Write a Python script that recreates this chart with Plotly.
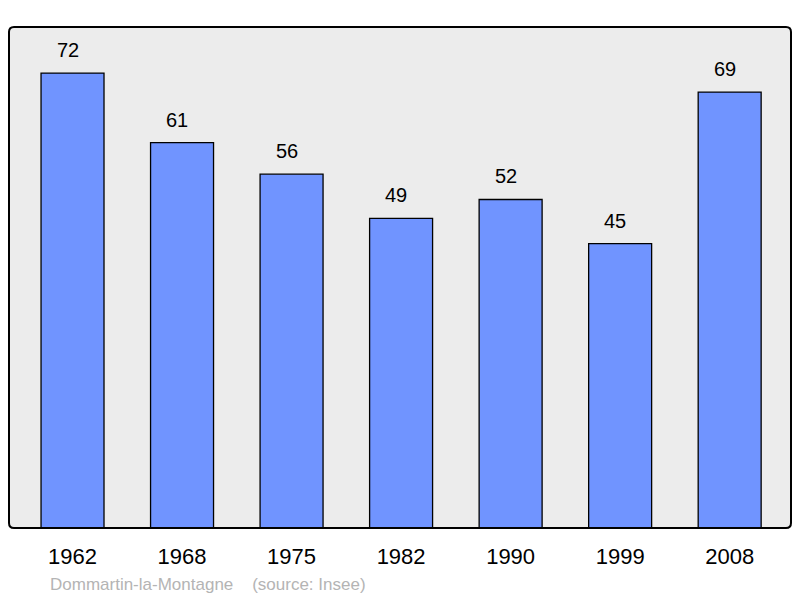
import plotly.graph_objects as go

years = ["1962", "1968", "1975", "1982", "1990", "1999", "2008"]
population = [72, 61, 56, 49, 52, 45, 69]
footer_text = "Dommartin-la-Montagne    (source: Insee)"

PW, PH = 782, 501  # plot area in pixels
rx, ry = 5 / PW, 5 / PH
border_path = (f"M {rx},0 L {1-rx},0 Q 1,0 1,{ry} L 1,{1-ry} Q 1,1 {1-rx},1 "
               f"L {rx},1 Q 0,1 0,{1-ry} L 0,{ry} Q 0,0 {rx},0 Z")

fig = go.Figure()
fig.add_trace(go.Bar(
    x=list(range(len(years))), y=population, width=0.575,
    marker=dict(color="#7094ff", line=dict(color="#000000", width=1.3)),
    hoverinfo="skip",
))

annotations = []
for i, v in enumerate(population):
    annotations.append(dict(x=i, y=v, xref="x", yref="y", text=str(v), showarrow=False,
                            yanchor="bottom", yshift=10, xshift=-5,
                            font=dict(family="Liberation Sans, Arial", size=20, color="#000")))
annotations.append(dict(x=(48 - 9) / PW, y=0, xref="paper", yref="paper", text=footer_text,
                        showarrow=False, xanchor="left", yanchor="middle", yshift=-56,
                        font=dict(family="Liberation Sans, Arial", size=17, color="#b4b4b4")))

fig.update_layout(
    width=800, height=598,
    margin=dict(l=9, r=9, t=27, b=70),
    paper_bgcolor="#ffffff", plot_bgcolor="rgba(0,0,0,0)",
    showlegend=False,
    annotations=annotations,
    bargap=0,
    xaxis=dict(range=[-0.58, 6.56], tickmode="array", tickvals=list(range(len(years))),
               ticktext=years, showgrid=False, zeroline=False, ticks="outside", ticklen=9,
               tickcolor="rgba(0,0,0,0)",
               tickfont=dict(family="Liberation Sans, Arial", size=22, color="#000")),
    yaxis=dict(range=[0, 79.3], showgrid=False, zeroline=False, showticklabels=False),
    shapes=[
        dict(type="path", xref="paper", yref="paper", path=border_path,
             fillcolor="#ececec", line=dict(width=0), layer="below"),
        dict(type="path", xref="paper", yref="paper", path=border_path,
             line=dict(color="#000", width=2), layer="above"),
    ],
)
fig.write_html("out.html", config={"displayModeBar": False, "staticPlot": True},
               post_script="document.body.style.margin='0';document.body.style.overflow='hidden';")
